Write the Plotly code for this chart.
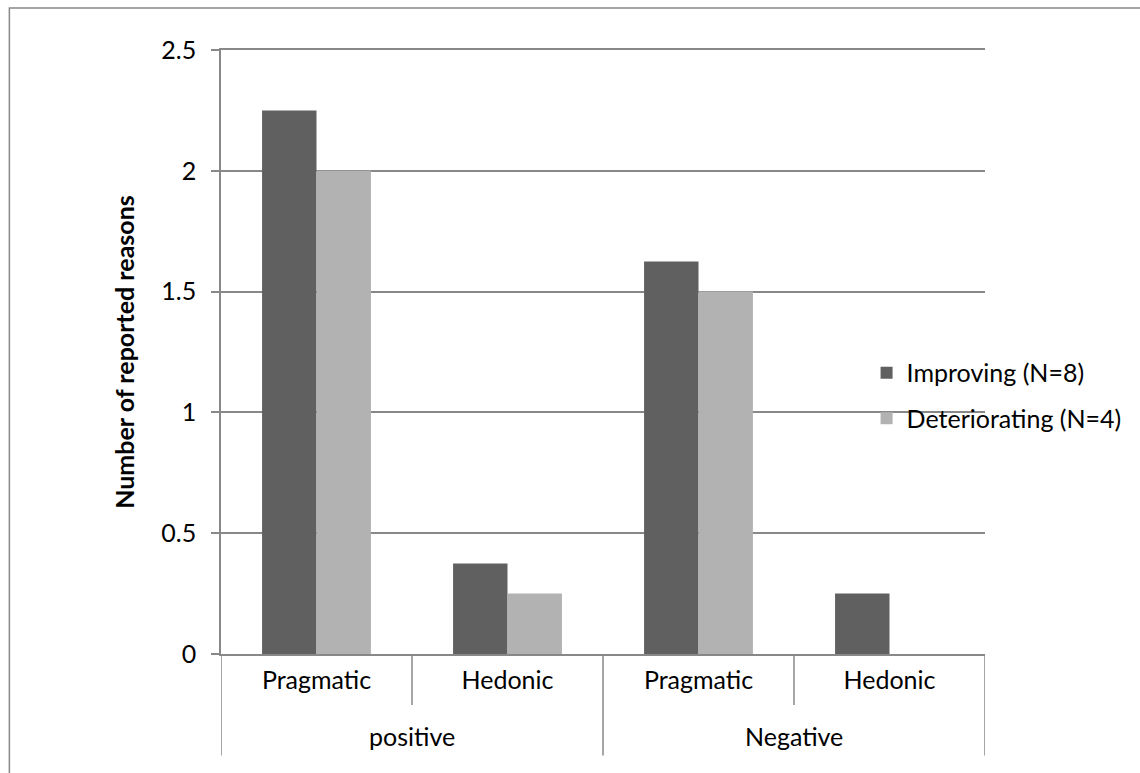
import plotly.graph_objects as go

# Reason categories (outer: valence, inner: quality type)
valence = ["positive", "positive", "Negative", "Negative"]
quality = ["Pragmatic", "Hedonic", "Pragmatic", "Hedonic"]

# Mean number of reported reasons per group
improving = [2.25, 0.375, 1.625, 0.25]
deteriorating = [2.0, 0.25, 1.5, 0.0]

series_names = ["Improving (N=8)", "Deteriorating (N=4)"]
series_colors = ["#606060", "#b2b2b2"]

y_ticks = [0, 0.5, 1, 1.5, 2, 2.5]
y_ticktext = ["0", "0.5", "1", "1.5", "2", "2.5"]

FONT = "Lato"
FS = 25
GRID = "#888888"

# unique category keys so repeated inner labels stay separate
keys = [f"{v}|{q}" for v, q in zip(valence, quality)]

fig = go.Figure()
for name, vals, col in zip(series_names, [improving, deteriorating], series_colors):
    fig.add_trace(go.Bar(
        x=keys, y=vals, name=name, legendgroup=name,
        marker=dict(color=col, line=dict(width=0)),
    ))

# divider lines under the axis: short between inner categories, long between groups
INNER_DROP = -0.0845
OUTER_DROP = -0.168
shapes = []
annotations = []
n = len(keys)
for i in range(n + 1):
    pos = i - 0.5
    is_group_edge = i == 0 or i == n or valence[i] != valence[i - 1]
    shapes.append(dict(type="line", xref="x", yref="paper", x0=pos, x1=pos,
                       y0=0, y1=OUTER_DROP if is_group_edge else INNER_DROP,
                       line=dict(color=GRID, width=1.5)))

# outer group labels centred under their categories
groups = []
for i, v in enumerate(valence):
    if not groups or groups[-1][0] != v:
        groups.append([v, i, i])
    else:
        groups[-1][2] = i
for v, a, b in groups:
    annotations.append(dict(text=v, xref="x", yref="paper", x=(a + b) / 2, y=-0.136,
                            showarrow=False, xanchor="center", yanchor="middle",
                            font=dict(family=FONT, size=FS, color="#000000")))

# chart frame
shapes.append(dict(type="rect", xref="paper", yref="paper",
                   x0=-0.277, x1=1.3, y0=-0.25, y1=1.0695,
                   line=dict(color=GRID, width=1.5), fillcolor="rgba(0,0,0,0)", layer="below"))

fig.update_layout(
    width=1140, height=773,
    margin=dict(l=221, r=155, t=50, b=119),
    paper_bgcolor="white", plot_bgcolor="white",
    font=dict(family=FONT, size=FS, color="#000000"),
    barmode="group", bargap=0.43, bargroupgap=0,
    showlegend=True,
    legend=dict(
        x=0.845, y=0.428, xanchor="left", yanchor="middle",
        bgcolor="rgba(0,0,0,0)", font=dict(family=FONT, size=FS),
        traceorder="grouped", tracegroupgap=10,
        itemwidth=30,
    ),
    xaxis=dict(
        type="category", range=[-0.5, n - 0.5],
        tickvals=keys, ticktext=quality,
        showline=True, linecolor=GRID, linewidth=1.5, mirror=True,
        ticks="", showgrid=False,
        ticklabelstandoff=3,
        tickfont=dict(family=FONT, size=FS),
    ),
    yaxis=dict(
        range=[0, 2.5], tickvals=y_ticks, ticktext=y_ticktext,
        showgrid=True, gridcolor=GRID, gridwidth=1.5,
        showline=True, linecolor=GRID, linewidth=1.5,
        ticks="outside", ticklen=8, tickcolor=GRID, tickwidth=1.5,
        zeroline=False,
        ticklabelstandoff=10,
        tickfont=dict(family=FONT, size=FS),
        title=dict(text="<b>Number of reported reasons</b>",
                   font=dict(family=FONT, size=FS), standoff=20),
    ),
    shapes=shapes,
    annotations=annotations,
)

fig.write_html("out.html")
